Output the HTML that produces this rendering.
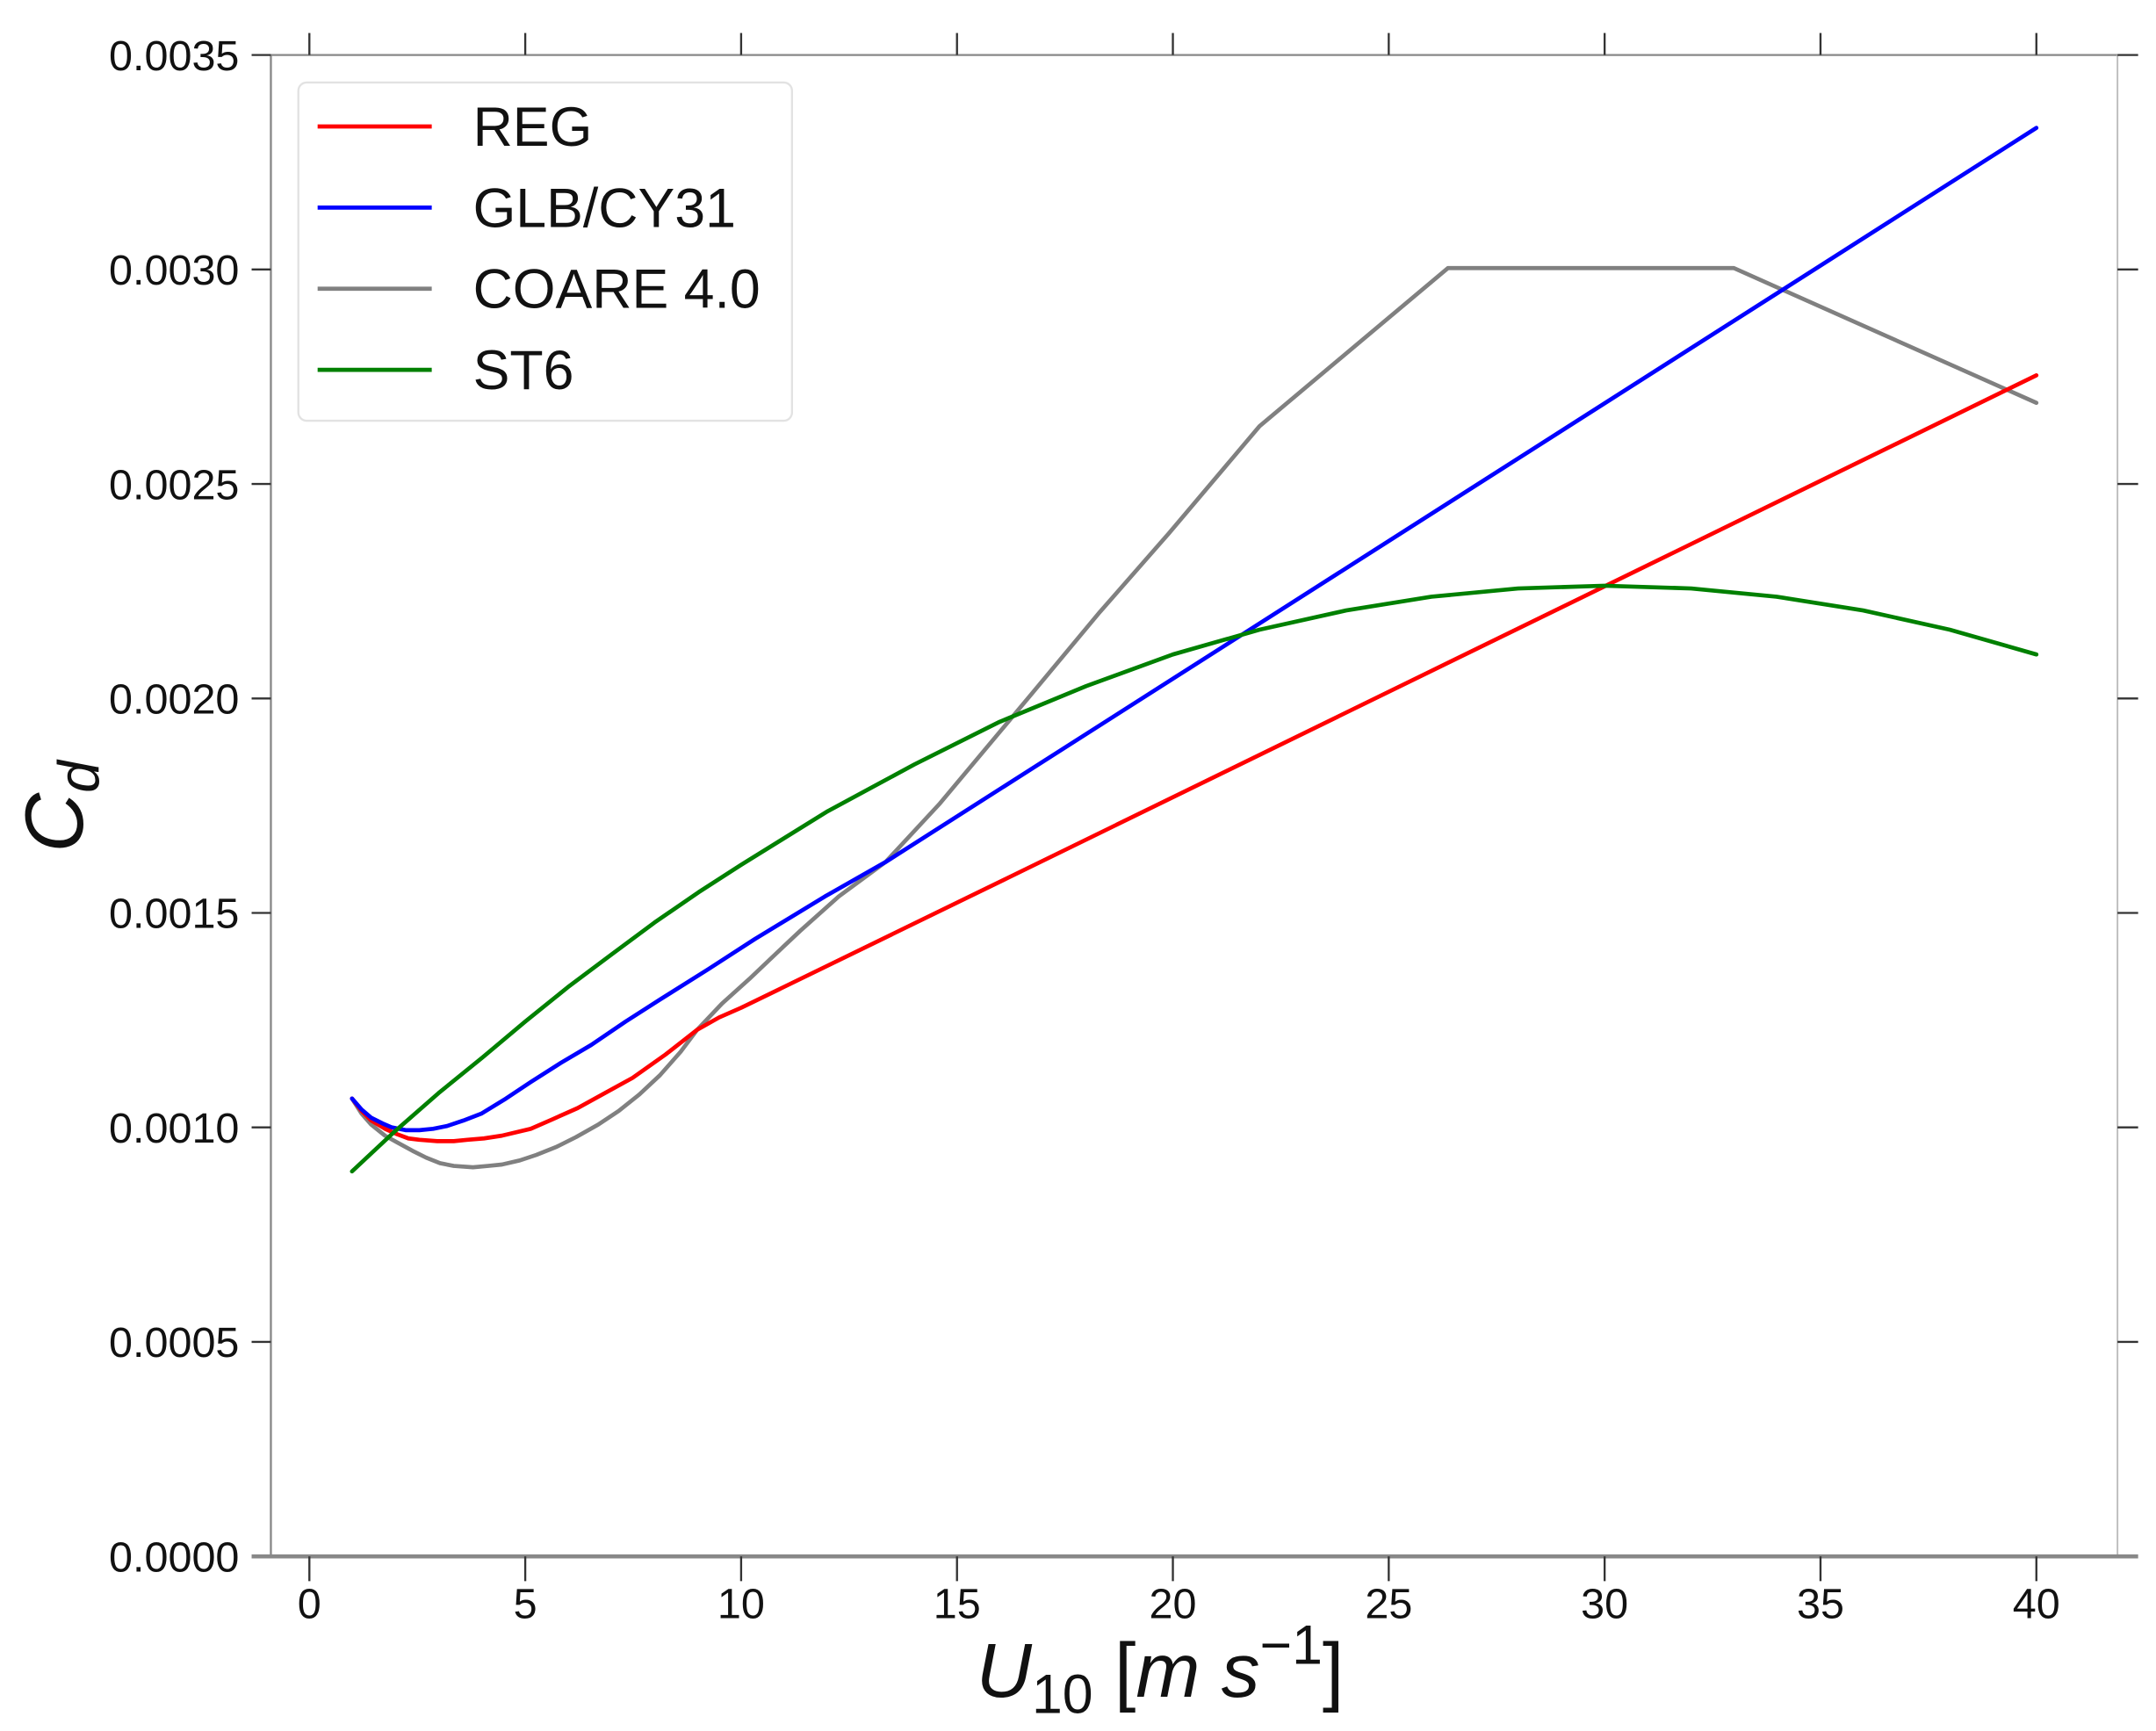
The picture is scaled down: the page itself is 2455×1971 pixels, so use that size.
<!DOCTYPE html>
<html><head><meta charset="utf-8"><style>
html,body{margin:0;padding:0;background:#fff;}
svg{display:block;}
text{font-family:"Liberation Sans","DejaVu Sans",sans-serif;fill:#111;}
</style></head><body>
<svg width="2455" height="1971" viewBox="0 0 1568 1259" preserveAspectRatio="none" xmlns="http://www.w3.org/2000/svg">
<rect width="1568" height="1259" fill="#fff"/>
<g stroke="#888" fill="none">
<line x1="197" y1="40" x2="1540" y2="40" stroke-width="1.5"/>
<line x1="197" y1="40" x2="197" y2="1132" stroke-width="1.5"/>
<line x1="1540" y1="40" x2="1540" y2="1132" stroke-width="1.2" stroke="#bbb"/>
<line x1="183" y1="1132" x2="1555" y2="1132" stroke-width="3"/>
</g>
<g stroke="#333" stroke-width="1.5">
<line x1="225" y1="24" x2="225" y2="40"/><line x1="382" y1="24" x2="382" y2="40"/><line x1="539" y1="24" x2="539" y2="40"/><line x1="696" y1="24" x2="696" y2="40"/><line x1="853" y1="24" x2="853" y2="40"/><line x1="1010" y1="24" x2="1010" y2="40"/><line x1="1167" y1="24" x2="1167" y2="40"/><line x1="1324" y1="24" x2="1324" y2="40"/><line x1="1481" y1="24" x2="1481" y2="40"/>
<line x1="225" y1="1132" x2="225" y2="1150"/><line x1="382" y1="1132" x2="382" y2="1150"/><line x1="539" y1="1132" x2="539" y2="1150"/><line x1="696" y1="1132" x2="696" y2="1150"/><line x1="853" y1="1132" x2="853" y2="1150"/><line x1="1010" y1="1132" x2="1010" y2="1150"/><line x1="1167" y1="1132" x2="1167" y2="1150"/><line x1="1324" y1="1132" x2="1324" y2="1150"/><line x1="1481" y1="1132" x2="1481" y2="1150"/>
<line x1="183" y1="40" x2="197" y2="40"/><line x1="183" y1="196" x2="197" y2="196"/><line x1="183" y1="352" x2="197" y2="352"/><line x1="183" y1="508" x2="197" y2="508"/><line x1="183" y1="664" x2="197" y2="664"/><line x1="183" y1="820" x2="197" y2="820"/><line x1="183" y1="976" x2="197" y2="976"/>
<line x1="1540" y1="40" x2="1555" y2="40"/><line x1="1540" y1="196" x2="1555" y2="196"/><line x1="1540" y1="352" x2="1555" y2="352"/><line x1="1540" y1="508" x2="1555" y2="508"/><line x1="1540" y1="664" x2="1555" y2="664"/><line x1="1540" y1="820" x2="1555" y2="820"/><line x1="1540" y1="976" x2="1555" y2="976"/>
</g>
<g font-size="31" text-anchor="end">
<text x="174" y="51">0.0035</text><text x="174" y="207">0.0030</text><text x="174" y="363">0.0025</text><text x="174" y="519">0.0020</text><text x="174" y="675">0.0015</text><text x="174" y="831">0.0010</text><text x="174" y="987">0.0005</text><text x="174" y="1143">0.0000</text>
</g>
<g font-size="31" text-anchor="middle">
<text x="225" y="1177">0</text><text x="382" y="1177">5</text><text x="539" y="1177">10</text><text x="696" y="1177">15</text><text x="853" y="1177">20</text><text x="1010" y="1177">25</text><text x="1167" y="1177">30</text><text x="1324" y="1177">35</text><text x="1481" y="1177">40</text>
</g>
<text x="710" y="1234" font-size="56" font-style="italic">U<tspan font-style="normal" font-size="40" dy="12">10</tspan><tspan font-style="normal" dy="-12"> [</tspan>m s<tspan font-style="normal" font-size="40" dy="-24">−1</tspan><tspan font-style="normal" dy="24">]</tspan></text>
<text transform="translate(60,620) rotate(-90)" font-size="60" font-style="italic">C<tspan font-size="42" dy="12">d</tspan></text>
<g fill="none" stroke-width="3" stroke-linejoin="round" stroke-linecap="round">
<polyline stroke="#808080" points="256,799 263,810 270,818 280,826 289,831 300,837 310,842 320,846 330,848 344,849 355,848 365,847 378,844 390,840 405,834 419,827 435,818 450,808 465,796 480,782 495,765 507,749 525,730 545,712 565,693 582,677 610,652 644,627 683,585 750,505 800,445 850,388 916,310 1053,195 1261,195 1481,293"/>
<polyline stroke="#ff0000" points="256,799 263,808 270,815 280,821 289,825 297,828 305,829 318,830 330,830 340,829 352,828 365,826 386,821 402,814 420,806 440,795 460,784 484,767 507,749 523,740 539,733 734,638 1481,273"/>
<polyline stroke="#0000ff" points="256,799 263,807 270,813 278,817 285,820 295,822 305,822 315,821 325,819 337,815 350,810 368,799 386,787 408,773 430,760 455,743 480,727 515,705 549,683 600,652 644,627 1481,93"/>
<polyline stroke="#008000" points="256,852 287,823 319,795 351,769 382,743 413,718 445,694 476,671 508,649 539,629 602,590 665,556 727,525 790,499 853,476 916,458 979,444 1041,434 1104,428 1167,426 1230,428 1292,434 1355,444 1418,458 1481,476"/>
</g>
<rect x="217" y="60" width="359" height="246" rx="6" fill="#fff" stroke="#e2e2e2" stroke-width="1.5"/>
<g stroke-width="3">
<line x1="231" y1="92" x2="314" y2="92" stroke="#ff0000"/>
<line x1="231" y1="151" x2="314" y2="151" stroke="#0000ff"/>
<line x1="231" y1="210" x2="314" y2="210" stroke="#808080"/>
<line x1="231" y1="269" x2="314" y2="269" stroke="#008000"/>
</g>
<g font-size="40">
<text x="344" y="106">REG</text>
<text x="344" y="165">GLB/CY31</text>
<text x="344" y="224">COARE 4.0</text>
<text x="344" y="283">ST6</text>
</g>
</svg>
</body></html>
